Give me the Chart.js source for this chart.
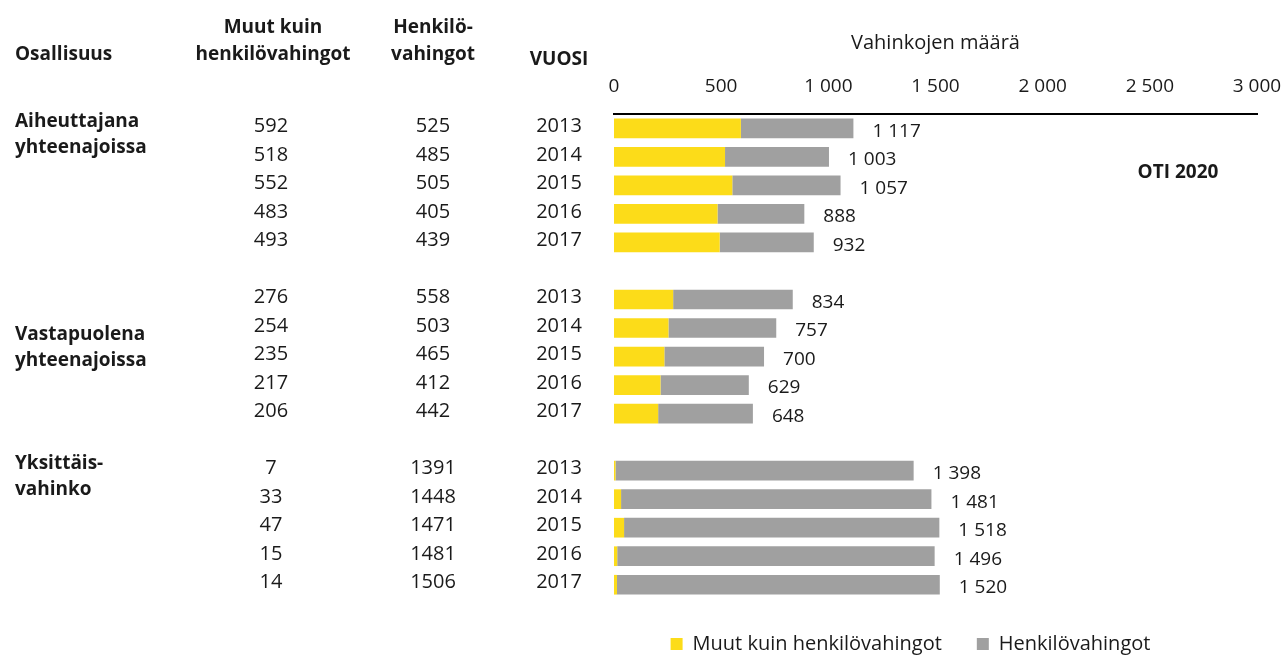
<!DOCTYPE html>
<html>
<head>
<meta charset="utf-8">
<script src="https://cdn.jsdelivr.net/npm/chart.js@4.4.1/dist/chart.umd.min.js"></script>
<style>
  html, body { margin: 0; padding: 0; background: #fff; }
  #wrap { width: 1286px; height: 657px; }
</style>
</head>
<body>
<div id="wrap"><canvas id="grafiikka"></canvas></div>
<script>
// Aineisto
const ryhmat = [['Aiheuttajana', 'yhteenajoissa'], ['Vastapuolena', 'yhteenajoissa'], ['Yksittäis-', 'vahinko']];
const vuodet = ['2013', '2014', '2015', '2016', '2017'];
const muutKuinHenkilo = [592, 518, 552, 483, 493, 276, 254, 235, 217, 206, 7, 33, 47, 15, 14];
const henkilovahingot = [525, 485, 505, 405, 439, 558, 503, 465, 412, 442, 1391, 1448, 1471, 1481, 1506];
const sarjat = ['Muut kuin henkilövahingot', 'Henkilövahingot'];
const varit = ['#FCDC19', '#A0A0A0'];

const fontti = '"Open Sans", "Noto Sans", sans-serif';
const tekstivari = '#1a1a1a';

// Rivit: 5 vuotta per ryhmä, tyhjä rivi ryhmien välissä
const rivit = [];
const arvot1 = [];
const arvot2 = [];
ryhmat.forEach((r, g) => {
    vuodet.forEach((v, i) => {
        rivit.push(v);
        arvot1.push(muutKuinHenkilo[g * 5 + i]);
        arvot2.push(henkilovahingot[g * 5 + i]);
    });
    if (g < ryhmat.length - 1) {
        rivit.push('');
        arvot1.push(null);
        arvot2.push(null);
    }
});

function muotoile(n) {
    return String(n).replace(/\B(?=(\d{3})+(?!\d))/g, ' ');
}

// Taulukko vasemmalla ja summat palkkien perässä
const taulukko = {
    id: 'taulukko',
    afterLayout(chart) {
        // legendan siirto kuvan mukaiseen kohtaan
        chart.legend.left -= 25;
        chart.legend.right -= 25;
    },
    afterDraw(chart) {
        const ctx = chart.ctx;
        const x = chart.scales.x;
        const y = chart.scales.y;
        ctx.save();
        ctx.fillStyle = tekstivari;
        ctx.textBaseline = 'middle';

        // otsikot
        ctx.font = 'bold 19px ' + fontti;
        ctx.textAlign = 'left';
        ctx.fillText('Osallisuus', 15, 55);
        ctx.textAlign = 'center';
        ctx.fillText('Muut kuin', 273, 28);
        ctx.fillText('henkilövahingot', 273, 55);
        ctx.fillText('Henkilö-', 433, 28);
        ctx.fillText('vahingot', 433, 55);
        ctx.fillText('VUOSI', 559, 60);
        ctx.fillText('OTI 2020', 1178, 173);

        // ryhmien nimet
        const ryhmanPaikka = [-0.23, 7.23, 11.77];
        ctx.textAlign = 'left';
        ryhmat.forEach((r, g) => {
            const y0 = y.getPixelForValue(ryhmanPaikka[g]);
            ctx.fillText(r[0], 15, y0);
            ctx.fillText(r[1], 15, y0 + 26);
        });

        // taulukon luvut ja summat
        rivit.forEach((v, i) => {
            if (arvot1[i] === null) return;
            const yy = y.getPixelForValue(i);
            ctx.font = '20px ' + fontti;
            ctx.textAlign = 'center';
            ctx.fillText(String(arvot1[i]), 271, yy - 2);
            ctx.fillText(String(arvot2[i]), 433, yy - 2);
            ctx.fillText(v, 559, yy - 2);
            const summa = arvot1[i] + arvot2[i];
            ctx.font = '19px ' + fontti;
            ctx.textAlign = 'left';
            ctx.fillText(muotoile(summa), x.getPixelForValue(summa) + 19, yy + 3);
        });
        ctx.restore();
    }
};

const ctx = document.getElementById('grafiikka').getContext('2d');
new Chart(ctx, {
    type: 'bar',
    data: {
        labels: rivit,
        datasets: [
            { label: sarjat[0], data: arvot1, backgroundColor: varit[0], barPercentage: 0.69, categoryPercentage: 1 },
            { label: sarjat[1], data: arvot2, backgroundColor: varit[1], barPercentage: 0.69, categoryPercentage: 1 }
        ]
    },
    options: {
        indexAxis: 'y',
        responsive: true,
        maintainAspectRatio: false,
        animation: false,
        layout: { padding: { left: 614, right: 29, top: 31, bottom: -7 } },
        scales: {
            x: {
                position: 'top',
                stacked: true,
                min: 0,
                max: 3000,
                ticks: {
                    stepSize: 500,
                    padding: 0,
                    color: tekstivari,
                    font: { family: fontti, size: 19, lineHeight: 2.9 },
                    callback: (v) => muotoile(v)
                },
                grid: { display: false, drawTicks: false },
                border: { display: true, color: '#000', width: 2 },
                title: {
                    display: true,
                    text: 'Vahinkojen määrä',
                    color: tekstivari,
                    font: { family: fontti, size: 20 },
                    padding: { top: 0, bottom: 4 }
                }
            },
            y: {
                stacked: true,
                display: false
            }
        },
        plugins: {
            legend: {
                position: 'bottom',
                fullSize: false,
                labels: {
                    boxWidth: 12,
                    boxHeight: 12,
                    padding: 35,
                    color: tekstivari,
                    font: { family: fontti, size: 20 }
                }
            },
            tooltip: { enabled: false }
        }
    },
    plugins: [taulukko]
});
</script>
</body>
</html>
